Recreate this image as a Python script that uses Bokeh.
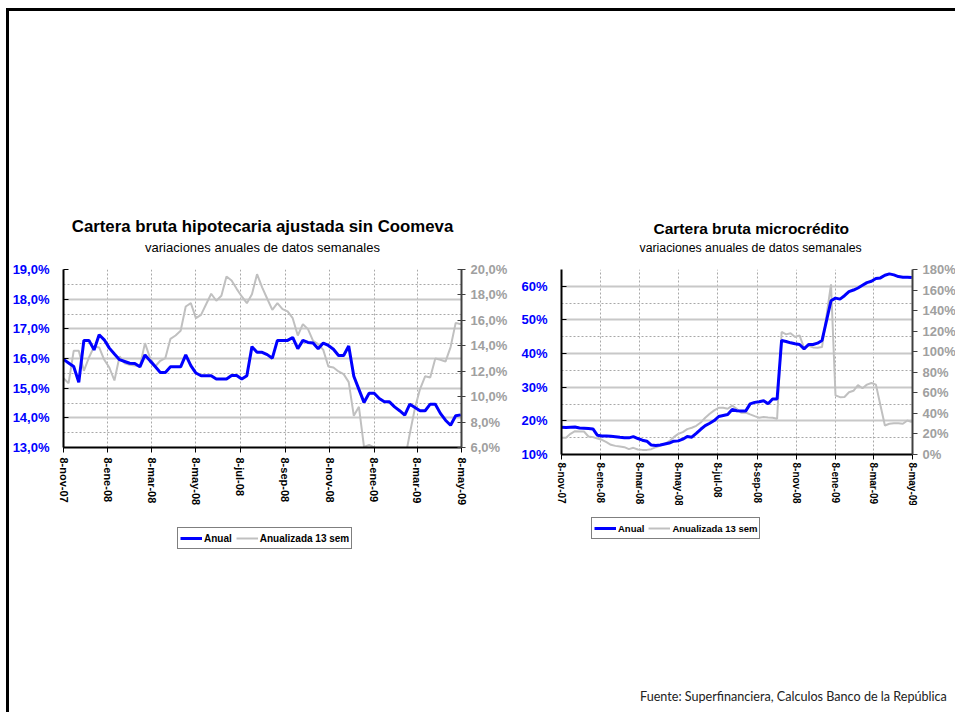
import numpy as np
import pandas as pd
from bokeh.plotting import figure
from bokeh.models import (Range1d, LinearAxis, FixedTicker, Legend, LegendItem, Title, Div, Spacer)
from bokeh.layouts import row, column
from bokeh.embed import file_html
from bokeh.resources import INLINE

# ---------------- data ----------------
start_date = "2007-11-08"
n_weeks = 79
dates = pd.date_range(start_date, periods=n_weeks, freq="7D")

hipo_anual = [15.97, 15.85, 15.73, 15.20, 16.61, 16.61, 16.29, 16.80, 16.63, 16.35,
              16.15, 15.96, 15.90, 15.84, 15.83, 15.72, 16.12, 15.92, 15.73, 15.53,
              15.53, 15.72, 15.72, 15.72, 16.12, 15.76, 15.51, 15.42, 15.42, 15.42,
              15.31, 15.31, 15.31, 15.43, 15.43, 15.31, 15.42, 16.40, 16.21, 16.21,
              16.13, 16.01, 16.61, 16.61, 16.61, 16.71, 16.33, 16.61, 16.54, 16.52,
              16.33, 16.52, 16.44, 16.31, 16.10, 16.10, 16.42, 15.40, 14.96, 14.52,
              14.83, 14.83, 14.65, 14.54, 14.54, 14.37, 14.24, 14.09, 14.46, 14.35,
              14.24, 14.24, 14.46, 14.46, 14.15, 13.92, 13.75, 14.07, 14.10]

hipo_13sem = [11.45, 11.06, 13.60, 13.60, 12.03, 13.08, 13.94, 13.87, 12.90, 12.29,
              11.27, 13.16, 12.63, 12.50, 12.45, 12.40, 14.21, 13.03, 12.37, 12.82,
              13.03, 14.55, 14.81, 15.18, 17.09, 17.35, 16.17, 16.43, 17.27, 18.09,
              17.54, 17.93, 19.45, 19.13, 18.48, 17.88, 17.35, 18.06, 19.63, 18.60,
              17.70, 16.83, 17.35, 16.88, 16.70, 16.17, 14.81, 15.70, 15.31, 14.39,
              14.13, 13.68, 12.37, 12.29, 11.98, 11.77, 11.14, 8.49, 9.20, 6.05,
              6.20, 6.00, 5.20, 4.70, 4.40, 4.30, 4.60, 5.00, 7.10, 9.10,
              10.60, 11.60, 11.50, 13.00, 12.90, 12.75, 13.90, 15.80, 15.70]

micro_anual = [18.1, 18.0, 18.1, 18.2, 17.9, 17.8, 17.7, 17.6, 15.7, 15.5,
               15.5, 15.4, 15.3, 15.1, 14.95, 14.95, 15.3, 14.75, 14.25, 13.95,
               12.8, 12.7, 12.8, 13.1, 13.4, 13.95, 14.05, 14.55, 15.35, 15.15,
               16.3, 17.5, 18.6, 19.3, 20.1, 21.3, 21.6, 21.9, 23.4, 23.0,
               22.9, 22.9, 25.05, 25.5, 25.7, 26.0, 25.1, 26.5, 26.5, 43.9,
               43.6, 43.2, 42.9, 42.7, 41.4, 42.7, 42.7, 43.1, 43.9, 49.8,
               55.7, 56.5, 56.2, 57.2, 58.4, 58.9, 59.5, 60.3, 61.1, 61.5,
               62.3, 62.5, 63.3, 63.7, 63.4, 62.9, 62.7, 62.7, 62.6]

micro_13sem = [16.2, 16.2, 20.1, 22.7, 22.4, 22.4, 17.5, 16.9, 15.6, 14.3,
               12.0, 9.4, 8.4, 7.8, 7.1, 5.2, 6.5, 4.9, 4.5, 4.5,
               5.2, 7.1, 8.8, 10.4, 13.0, 16.9, 20.1, 21.8, 24.7, 26.0,
               27.9, 31.2, 35.7, 39.6, 42.9, 45.5, 45.5, 44.5, 47.5, 44.5,
               40.5, 40.9, 39.0, 37.3, 35.7, 36.4, 36.0, 35.7, 34.7, 119.2,
               116.9, 117.9, 114.3, 115.9, 103.5, 105.8, 104.2, 103.9, 104.5, 135.0,
               165.6, 57.5, 55.8, 56.0, 60.5, 62.0, 67.5, 64.5, 68.0, 69.5,
               68.0, 48.0, 28.2, 29.9, 30.5, 30.5, 29.9, 33.1, 31.5]

tick_dates = ["2007-11-08", "2008-01-08", "2008-03-08", "2008-05-08", "2008-07-08",
              "2008-09-08", "2008-11-08", "2009-01-08", "2009-03-08", "2009-05-08"]
tick_labels = ["8-nov-07", "8-ene-08", "8-mar-08", "8-may-08", "8-jul-08",
               "8-sep-08", "8-nov-08", "8-ene-09", "8-mar-09", "8-may-09"]

hipo_left_ticks = [13, 14, 15, 16, 17, 18, 19]
hipo_left_labels = ["13,0%", "14,0%", "15,0%", "16,0%", "17,0%", "18,0%", "19,0%"]
hipo_right_ticks = [6, 8, 10, 12, 14, 16, 18, 20]
hipo_right_labels = ["6,0%", "8,0%", "10,0%", "12,0%", "14,0%", "16,0%", "18,0%", "20,0%"]

micro_left_ticks = [10, 20, 30, 40, 50, 60]
micro_left_labels = ["10%", "20%", "30%", "40%", "50%", "60%"]
micro_right_ticks = [0, 20, 40, 60, 80, 100, 120, 140, 160, 180]
micro_right_labels = ["0%", "20%", "40%", "60%", "80%", "100%", "120%", "140%", "160%", "180%"]

title_left = "Cartera bruta hipotecaria ajustada sin Coomeva"
title_right = "Cartera bruta microcrédito"
subtitle = "variaciones anuales de datos semanales"
legend_labels = ["Anual", "Anualizada 13 sem"]
footer = "Fuente: Superfinanciera, Calculos Banco de la República"

# ---------------- helpers ----------------
def to_ms(d):
    return int(pd.Timestamp(d).value // 10**6)

x_ms = [to_ms(d) for d in dates]
tick_ms = [to_ms(d) for d in tick_dates]

BLUE = "#0000FF"
GRAYLINE = "#C0C0C0"
GRAYTXT = "#A0A0A0"
FONT = "Liberation Sans"


def make_chart(fw, fh, bl, br, yl, yr, lt, ll, rt, rl,
               anual, sem, x_font, tick_std,
               left_minor, right_tick_in, right_tick_out,
               title, t_size, s_size, t_align, t_off, s_off):
    p = figure(frame_width=fw, frame_height=fh, output_backend="svg", toolbar_location=None,
               x_range=Range1d(tick_ms[0], tick_ms[-1]), y_range=Range1d(*yl),
               min_border_left=bl, min_border_right=br, min_border_top=0,
               min_border_bottom=0)
    p.outline_line_color = None
    p.background_fill_color = "white"
    p.border_fill_color = "white"
    p.extra_y_ranges = {"r": Range1d(*yr)}

    p.xaxis.ticker = FixedTicker(ticks=tick_ms)
    p.xaxis.major_label_overrides = dict(zip(tick_ms, tick_labels))
    p.xaxis.major_label_orientation = "vertical"
    p.xaxis.major_label_text_font = FONT
    p.xaxis.major_label_text_font_style = "bold"
    p.xaxis.major_label_text_font_size = x_font
    p.xaxis.major_label_text_color = "black"
    p.xaxis.axis_line_color = "black"
    p.xaxis.axis_line_width = 2
    p.xaxis.major_tick_line_color = "black"
    p.xaxis.major_tick_in = 0
    p.xaxis.major_tick_out = 5
    p.xaxis.minor_tick_line_color = None
    p.xaxis.major_label_standoff = tick_std

    p.yaxis.ticker = FixedTicker(ticks=lt, minor_ticks=left_minor)
    p.yaxis.major_label_overrides = dict(zip(lt, ll))
    p.yaxis.major_label_text_font = FONT
    p.yaxis.major_label_text_font_style = "bold"
    p.yaxis.major_label_text_font_size = "13px"
    p.yaxis.major_label_text_color = BLUE
    p.yaxis.axis_line_color = "black"
    p.yaxis.axis_line_width = 2
    p.yaxis.major_tick_line_color = "black"
    p.yaxis.major_tick_in = 5
    p.yaxis.major_tick_out = 0
    p.yaxis.minor_tick_line_color = None
    p.yaxis.major_label_standoff = 10

    ra = LinearAxis(y_range_name="r", ticker=FixedTicker(ticks=rt))
    ra.major_label_overrides = dict(zip(rt, rl))
    ra.major_label_text_font = FONT
    ra.major_label_text_font_style = "bold"
    ra.major_label_text_font_size = "13px"
    ra.major_label_text_color = GRAYTXT
    ra.axis_line_color = "#404040"
    ra.axis_line_width = 2
    ra.major_tick_line_color = "#404040"
    ra.major_tick_in = right_tick_in
    ra.major_tick_out = right_tick_out
    ra.minor_tick_line_color = None
    ra.major_label_standoff = 5
    p.add_layout(ra, "right")

    p.xgrid.grid_line_color = "#A8A8A8"
    p.xgrid.grid_line_dash = "2 2"
    p.xgrid.grid_line_width = 1
    p.ygrid.grid_line_color = "#C8C8C8"
    p.ygrid.grid_line_width = 2
    p.ygrid.minor_grid_line_color = "#A8A8A8"
    p.ygrid.minor_grid_line_dash = "2 2"
    p.ygrid.minor_grid_line_width = 1

    p.line(x_ms, sem, y_range_name="r", line_color=GRAYLINE, line_width=2)
    p.line(x_ms, anual, line_color=BLUE, line_width=3)

    # subtitle first (closest to the frame), then main title, then an empty spacer line
    p.add_layout(Title(text=subtitle, align=t_align, offset=s_off, vertical_align="top",
                       standoff=25, text_font=FONT, text_font_style="normal",
                       text_font_size=s_size, text_color="black"), "above")
    p.add_layout(Title(text=title, align=t_align, offset=t_off, vertical_align="bottom",
                       standoff=-16, text_font=FONT, text_font_style="bold",
                       text_font_size=t_size, text_color="black"), "above")
    p.add_layout(Title(text=" ", standoff=30, text_font=FONT,
                       text_font_size="10px"), "above")
    return p


def legend_fig(fw, bl, br, loc, font_size):
    f = figure(frame_width=fw, frame_height=50, output_backend="svg", toolbar_location=None,
               min_border_left=bl, min_border_right=br, min_border_top=0, min_border_bottom=0,
               x_range=Range1d(0, 1), y_range=Range1d(0, 1),
               x_axis_location=None, y_axis_location=None)
    f.grid.visible = False
    f.outline_line_color = None
    f.background_fill_color = "white"
    f.border_fill_color = "white"
    # legend swatch renderers, kept outside the visible range
    b = f.line(x=[-2, -1], y=[-2, -1], line_color=BLUE, line_width=3)
    g = f.line(x=[-2, -1], y=[-2, -1], line_color=GRAYLINE, line_width=2)
    leg = Legend(items=[LegendItem(label=legend_labels[0], renderers=[b]),
                        LegendItem(label=legend_labels[1], renderers=[g])],
                 orientation="horizontal", location=loc)
    leg.label_text_font = FONT
    leg.label_text_font_style = "bold"
    leg.label_text_font_size = font_size
    leg.label_text_color = "black"
    leg.border_line_color = "black"
    leg.border_line_width = 1
    leg.background_fill_color = "white"
    leg.background_fill_alpha = 1
    leg.glyph_width = 22
    leg.glyph_height = 16
    leg.label_height = 16
    leg.label_standoff = 2
    leg.spacing = 4
    leg.padding = 2
    leg.margin = 0
    f.add_layout(leg)
    return f


p1 = make_chart(398, 178, 53, 57, (13, 19), (6, 20),
                hipo_left_ticks, hipo_left_labels, hipo_right_ticks, hipo_right_labels,
                hipo_anual, hipo_13sem, "11px", 5,
                [13.5, 14.5, 15.5, 16.5, 17.5, 18.5], 4, 4,
                title_left, "16.8px", "13px", "center", 0, 0)

p2 = make_chart(351, 185, 40, 45, (10, 65), (0, 180),
                micro_left_ticks, micro_left_labels, micro_right_ticks, micro_right_labels,
                micro_anual, micro_13sem, "10px", 3,
                [15, 25, 35, 45, 55, 65], 0, 5,
                title_right, "15.5px", "12.3px", "left", 92, 78)

l1 = legend_fig(398, 53, 57, (115, 9), "10px")
l2 = legend_fig(351, 40, 45, (34, 19), "9.5px")

foot = Div(text=footer, width=940, height=22,
           styles={"font-family": "Lato", "font-size": "12.6px", "color": "#222222",
                   "padding-left": "626px", "padding-top": "3px",
                   "white-space": "nowrap"})

layout = column(Spacer(height=168), row(p1, p2), row(l1, l2), Spacer(height=122), foot,
                styles={"margin-left": "6px", "margin-top": "8px",
                        "border-top": "3px solid black", "border-left": "3px solid black"})

open("out.html", "w").write(file_html(layout, INLINE))
